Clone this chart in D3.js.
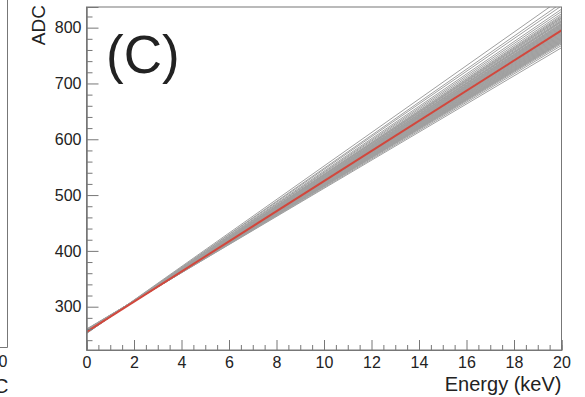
<!DOCTYPE html>
<html>
<head>
<meta charset="utf-8">
<script src="https://cdn.jsdelivr.net/npm/d3@7"></script>
<style>
  body { margin: 0; background: #fff; }
  svg { display: block; }
  text { font-family: "Liberation Sans", Arial, sans-serif; fill: #222; }
</style>
</head>
<body>
<div id="chart"></div>
<script>
// energy axis range (keV) and ADC axis range
const xDomain = [0, 20];
const yDomain = [222.4, 837];
const xMajorTicks = [0, 2, 4, 6, 8, 10, 12, 14, 16, 18, 20];
const yMajorTicks = [300, 400, 500, 600, 700, 800];

// gray calibration curves: ADC at 0 keV and at 20 keV
const grayStart = [252, 252, 253, 253, 253, 254, 253, 254, 254, 254, 255, 254, 255, 255, 254, 255, 255, 256, 255, 255,
                   256, 255, 256, 256, 255, 256, 256, 257, 256, 256, 257, 256, 257, 257, 256, 257, 257, 258, 257, 257,
                   258, 257, 258, 258, 257, 258, 258, 258, 259, 258, 259, 259, 259, 260];
const grayEnd = [852, 844, 839, 833, 829, 825, 822, 820, 818, 817, 815, 813, 812, 811, 810, 808, 807, 806, 805, 804,
                 803, 802, 801, 800, 799, 798, 797, 796, 795, 794, 793, 792, 791, 790, 789, 788, 787, 786, 785, 784,
                 783, 782, 781, 780, 779, 778, 777, 776, 775, 774, 773, 771, 768, 764];

// mean calibration (red)
const redStart = 255;
const redEnd = 795;

const width = 585;
const height = 397;
const frame = { left: 86.5, right: 561.5, top: 7, bottom: 350 };

const svg = d3.select('#chart')
  .append('svg')
  .attr('width', width)
  .attr('height', height);

const xScale = d3.scaleLinear().domain(xDomain).range([frame.left, frame.right]);
const yScale = d3.scaleLinear().domain(yDomain).range([frame.bottom, frame.top]);

svg.append('clipPath').attr('id', 'clip')
  .append('rect')
  .attr('x', frame.left).attr('y', frame.top)
  .attr('width', frame.right - frame.left)
  .attr('height', frame.bottom - frame.top);

// lines
const curves = grayStart.map((s, i) => [[0, s], [20, grayEnd[i]]]);
const line = d3.line().x(d => xScale(d[0])).y(d => yScale(d[1]));

const plot = svg.append('g').attr('clip-path', 'url(#clip)');

plot.selectAll('.curve')
  .data(curves)
  .enter()
  .append('path')
  .attr('class', 'curve')
  .attr('d', line)
  .attr('fill', 'none')
  .attr('stroke', '#a0a0a0')
  .attr('stroke-width', 1);

plot.append('path')
  .attr('d', line([[0, redStart], [20, redEnd]]))
  .attr('fill', 'none')
  .attr('stroke', '#d2473c')
  .attr('stroke-width', 2);

// frame
svg.append('rect')
  .attr('x', frame.left).attr('y', frame.top)
  .attr('width', frame.right - frame.left)
  .attr('height', frame.bottom - frame.top)
  .attr('fill', 'none')
  .attr('stroke', '#777')
  .attr('stroke-width', 1);

// y axis (ticks inside the frame, ROOT style)
const yMinor = d3.range(240, 840, 20).filter(v => v % 100 !== 0);
svg.append('g')
  .attr('transform', `translate(${frame.left},0)`)
  .call(d3.axisLeft(yScale).tickValues(yMajorTicks).tickSize(-12).tickPadding(5));
svg.append('g')
  .attr('transform', `translate(${frame.left},0)`)
  .call(d3.axisLeft(yScale).tickValues(yMinor).tickSize(-6).tickFormat(''));

// x axis
const xMinor = d3.range(0.5, 20, 0.5).filter(v => v % 2 !== 0);
svg.append('g')
  .attr('transform', `translate(0,${frame.bottom})`)
  .call(d3.axisBottom(xScale).tickValues(xMajorTicks).tickSize(-10).tickPadding(7));
svg.append('g')
  .attr('transform', `translate(0,${frame.bottom})`)
  .call(d3.axisBottom(xScale).tickValues(xMinor).tickSize(-5).tickFormat(''));

svg.selectAll('.domain').attr('stroke', '#777');
svg.selectAll('.tick line').attr('stroke', '#777');
svg.selectAll('.tick text')
  .style('font-family', '"Liberation Sans", Arial, sans-serif')
  .style('font-size', '16px')
  .attr('fill', '#333');

// axis titles
svg.append('text')
  .attr('text-anchor', 'end')
  .attr('transform', 'rotate(-90)')
  .attr('x', -5)
  .attr('y', 45)
  .style('font-size', '19px')
  .text('ADC');

svg.append('text')
  .attr('text-anchor', 'end')
  .attr('x', frame.right)
  .attr('y', 391)
  .style('font-size', '20px')
  .text('Energy (keV)');

// panel label
svg.append('text')
  .attr('x', 106)
  .attr('y', 73)
  .style('font-size', '53px')
  .text('(C)');

// cropped neighbour panel on the left
svg.append('path')
  .attr('d', 'M7.5,0 V347.5 H0')
  .attr('fill', 'none')
  .attr('stroke', '#777')
  .attr('stroke-width', 1);
svg.append('text')
  .attr('text-anchor', 'middle')
  .attr('x', 3)
  .attr('y', 367)
  .style('font-size', '16px')
  .text('0');
svg.append('text')
  .attr('x', -6)
  .attr('y', 393)
  .style('font-size', '20px')
  .text('C');
</script>
</body>
</html>
